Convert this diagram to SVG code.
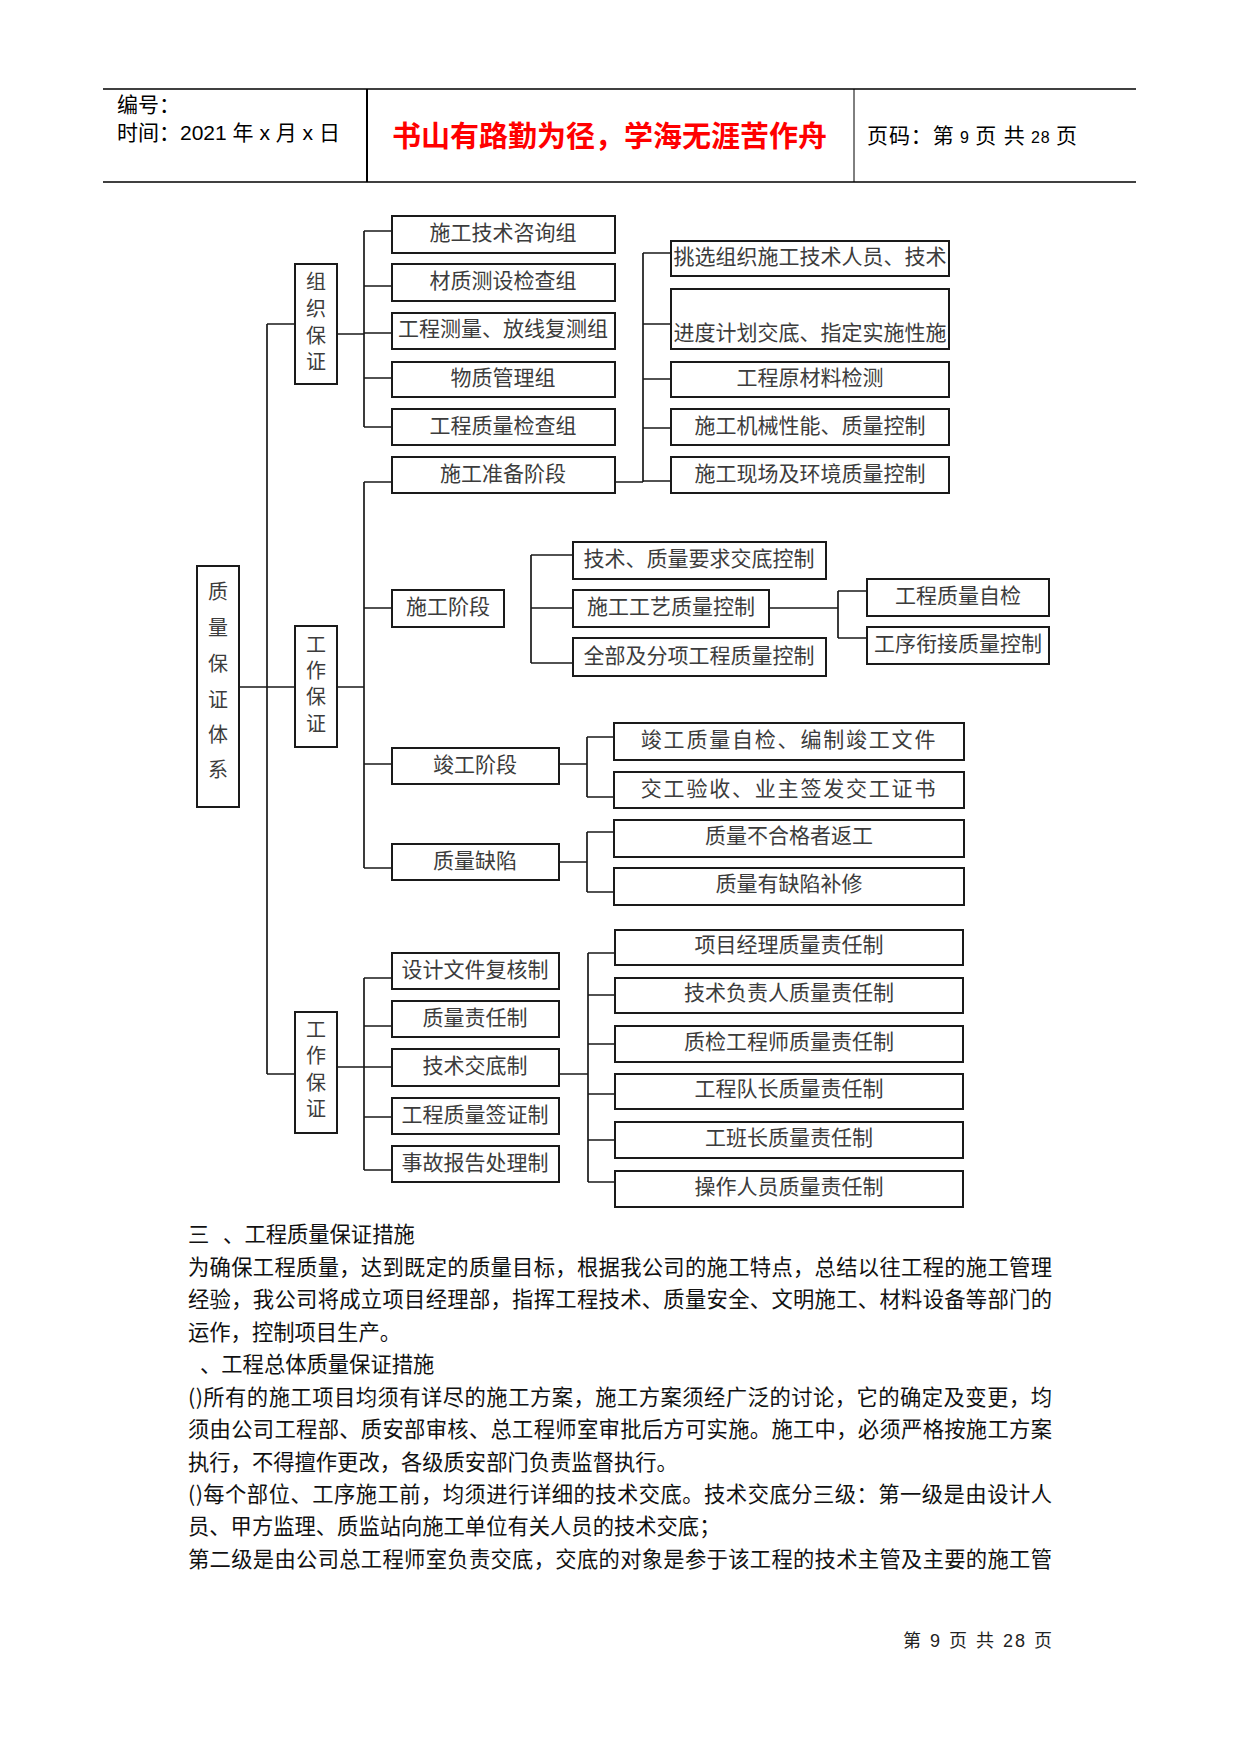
<svg xmlns="http://www.w3.org/2000/svg" width="1241" height="1754" viewBox="0 0 1241 1754">
<style>
.bx{fill:#fff;stroke:#1a1a1a;stroke-width:2}
.t{font-family:"Noto Sans CJK SC","Liberation Serif",sans-serif;font-size:21px;fill:#3c3c3c;text-anchor:middle;dominant-baseline:central;transform:translateY(-3px)}
.v{font-family:"Noto Sans CJK SC","Liberation Serif",sans-serif;font-size:20px;fill:#3c3c3c;text-anchor:middle;dominant-baseline:central}
.ln{fill:none;stroke:#1a1a1a;stroke-width:1.7}
.p{font-family:"Noto Sans CJK SC","Liberation Serif",sans-serif;font-size:21.3px;fill:#111;dominant-baseline:central;transform:translateY(-2px)}
.h{font-family:"Liberation Sans","Noto Sans CJK SC",sans-serif;font-size:21px;fill:#000}
</style>
<rect width="1241" height="1754" fill="#fff"/>
<g id="header">
<line x1="103" y1="89" x2="1136" y2="89" stroke="#000" stroke-width="1.5"/>
<line x1="103" y1="182" x2="1136" y2="182" stroke="#000" stroke-width="1.5"/>
<line x1="367" y1="89" x2="367" y2="182" stroke="#000" stroke-width="2"/>
<line x1="854" y1="89" x2="854" y2="182" stroke="#000" stroke-width="1"/>
<text class="h" x="117" y="112">编号：</text>
<text class="h" x="117" y="140">时间：2021 年 x 月 x 日</text>
<text x="392" y="147" font-family="Noto Sans CJK SC,sans-serif" font-size="29" font-weight="bold" fill="#ff0000">书山有路勤为径，学海无涯苦作舟</text>
<text class="h" x="867" y="143" textLength="210" lengthAdjust="spacing">页码：第<tspan font-size="16"> 9 </tspan>页 共<tspan font-size="16"> 28 </tspan>页</text>
</g>
<g id="connectors">
<path class="ln" d="M239,687 H295 M267,324 V1074 M267,324 H295 M267,1074 H295"/>
<path class="ln" d="M337,334 H364 M364,231 V427 M364,231 H392 M364,286 H392 M364,333 H392 M364,378 H392 M364,427 H392"/>
<path class="ln" d="M337,687 H364 M364,482 V868 M364,482 H392 M364,608 H392 M364,764 H392 M364,868 H392"/>
<path class="ln" d="M615,482 H643 M643,253 V482 M643,253 H671 M643,324 H671 M643,379 H671 M643,428 H671 M643,481 H671"/>
<path class="ln" d="M531,555 V663 M531,555 H573 M531,608 H573 M531,663 H573"/>
<path class="ln" d="M769,608 H838 M838,591 V638 M838,591 H867 M838,638 H867"/>
<path class="ln" d="M559,764 H587 M587,737 V797 M587,737 H614 M587,797 H614"/>
<path class="ln" d="M559,862 H587 M587,832 V892 M587,832 H614 M587,892 H614"/>
<path class="ln" d="M337,1067 H364 M364,978 V1170 M364,978 H392 M364,1026 H392 M364,1067 H392 M364,1117 H392 M364,1170 H392"/>
<path class="ln" d="M559,1074 H588 M588,953 V1182 M588,953 H615 M588,995 H615 M588,1044 H615 M588,1094 H615 M588,1140 H615 M588,1182 H615"/>
</g>
<g id="root"><rect class="bx" x="197" y="566" width="42" height="241"/>
<text class="v" x="218" y="590">质</text><text class="v" x="218" y="626">量</text><text class="v" x="218" y="662">保</text><text class="v" x="218" y="698">证</text><text class="v" x="218" y="733">体</text><text class="v" x="218" y="768">系</text></g>
<g id="org"><rect class="bx" x="295" y="264" width="42" height="120"/>
<text class="v" x="316" y="280">组</text><text class="v" x="316" y="307">织</text><text class="v" x="316" y="334">保</text><text class="v" x="316" y="360">证</text></g>
<g id="work1"><rect class="bx" x="295" y="626" width="42" height="121"/>
<text class="v" x="316" y="643">工</text><text class="v" x="316" y="669">作</text><text class="v" x="316" y="695">保</text><text class="v" x="316" y="722">证</text></g>
<g id="work2"><rect class="bx" x="295" y="1012" width="42" height="121"/>
<text class="v" x="316" y="1028">工</text><text class="v" x="316" y="1054">作</text><text class="v" x="316" y="1081">保</text><text class="v" x="316" y="1107">证</text></g>
<g id="n1"><rect class="bx" x="392" y="216" width="223" height="37"/><text class="t" x="503" y="234">施工技术咨询组</text></g>
<g id="n2"><rect class="bx" x="392" y="264" width="223" height="37"/><text class="t" x="503" y="282">材质测设检查组</text></g>
<g id="n3"><rect class="bx" x="392" y="313" width="223" height="36"/><text class="t" x="503" y="330">工程测量、放线复测组</text></g>
<g id="n4"><rect class="bx" x="392" y="362" width="223" height="35"/><text class="t" x="503" y="379">物质管理组</text></g>
<g id="n5"><rect class="bx" x="392" y="409" width="223" height="36"/><text class="t" x="503" y="427">工程质量检查组</text></g>
<g id="n6"><rect class="bx" x="392" y="457" width="223" height="36"/><text class="t" x="503" y="475">施工准备阶段</text></g>
<g id="p1"><rect class="bx" x="671" y="241" width="278" height="35"/><text class="t" x="810" y="258">挑选组织施工技术人员、技术</text></g>
<g id="p2"><rect class="bx" x="671" y="289" width="278" height="60"/><text class="t" x="810" y="334">进度计划交底、指定实施性施</text></g>
<g id="p3"><rect class="bx" x="671" y="362" width="278" height="35"/><text class="t" x="810" y="379">工程原材料检测</text></g>
<g id="p4"><rect class="bx" x="671" y="409" width="278" height="36"/><text class="t" x="810" y="427">施工机械性能、质量控制</text></g>
<g id="p5"><rect class="bx" x="671" y="457" width="278" height="36"/><text class="t" x="810" y="475">施工现场及环境质量控制</text></g>
<g id="s"><rect class="bx" x="392" y="590" width="112" height="37"/><text class="t" x="448" y="608">施工阶段</text></g>
<g id="s1"><rect class="bx" x="573" y="542" width="253" height="37"/><text class="t" x="699" y="560">技术、质量要求交底控制</text></g>
<g id="s2"><rect class="bx" x="573" y="590" width="196" height="37"/><text class="t" x="671" y="608">施工工艺质量控制</text></g>
<g id="s3"><rect class="bx" x="573" y="638" width="253" height="38"/><text class="t" x="699" y="657">全部及分项工程质量控制</text></g>
<g id="s21"><rect class="bx" x="867" y="579" width="182" height="37"/><text class="t" x="958" y="597">工程质量自检</text></g>
<g id="s22"><rect class="bx" x="867" y="627" width="182" height="37"/><text class="t" x="958" y="645">工序衔接质量控制</text></g>
<g id="c"><rect class="bx" x="392" y="748" width="167" height="36"/><text class="t" x="475" y="766">竣工阶段</text></g>
<g id="c1"><rect class="bx" x="614" y="723" width="350" height="37"/><text class="t" x="789" y="741" letter-spacing="1.8">竣工质量自检、编制竣工文件</text></g>
<g id="c2"><rect class="bx" x="614" y="772" width="350" height="36"/><text class="t" x="789" y="790" letter-spacing="1.8">交工验收、业主签发交工证书</text></g>
<g id="d"><rect class="bx" x="392" y="844" width="167" height="36"/><text class="t" x="475" y="862">质量缺陷</text></g>
<g id="d1"><rect class="bx" x="614" y="820" width="350" height="37"/><text class="t" x="789" y="837">质量不合格者返工</text></g>
<g id="d2"><rect class="bx" x="614" y="868" width="350" height="37"/><text class="t" x="789" y="885">质量有缺陷补修</text></g>
<g id="w1"><rect class="bx" x="392" y="953" width="167" height="36"/><text class="t" x="475" y="971">设计文件复核制</text></g>
<g id="w2"><rect class="bx" x="392" y="1001" width="167" height="36"/><text class="t" x="475" y="1019">质量责任制</text></g>
<g id="w3"><rect class="bx" x="392" y="1049" width="167" height="37"/><text class="t" x="475" y="1067">技术交底制</text></g>
<g id="w4"><rect class="bx" x="392" y="1098" width="167" height="36"/><text class="t" x="475" y="1116">工程质量签证制</text></g>
<g id="w5"><rect class="bx" x="392" y="1146" width="167" height="36"/><text class="t" x="475" y="1164">事故报告处理制</text></g>
<g id="r1"><rect class="bx" x="615" y="930" width="348" height="35"/><text class="t" x="789" y="946">项目经理质量责任制</text></g>
<g id="r2"><rect class="bx" x="615" y="978" width="348" height="35"/><text class="t" x="789" y="994">技术负责人质量责任制</text></g>
<g id="r3"><rect class="bx" x="615" y="1026" width="348" height="36"/><text class="t" x="789" y="1043">质检工程师质量责任制</text></g>
<g id="r4"><rect class="bx" x="615" y="1074" width="348" height="35"/><text class="t" x="789" y="1090">工程队长质量责任制</text></g>
<g id="r5"><rect class="bx" x="615" y="1122" width="348" height="36"/><text class="t" x="789" y="1139">工班长质量责任制</text></g>
<g id="r6"><rect class="bx" x="615" y="1171" width="348" height="36"/><text class="t" x="789" y="1188">操作人员质量责任制</text></g>
<g id="text">
<text class="p" x="188" y="1234">三 <tspan dx="9">、工程质量保证措施</tspan></text>
<text class="p" x="188" y="1267" textLength="864" lengthAdjust="spacing">为确保工程质量，达到既定的质量目标，根据我公司的施工特点，总结以往工程的施工管理</text>
<text class="p" x="188" y="1299" textLength="864" lengthAdjust="spacing">经验，我公司将成立项目经理部，指挥工程技术、质量安全、文明施工、材料设备等部门的</text>
<text class="p" x="188" y="1332">运作，控制项目生产。</text>
<text class="p" x="200" y="1364">、工程总体质量保证措施</text>
<text class="p" x="188" y="1397" textLength="864" lengthAdjust="spacing">()所有的施工项目均须有详尽的施工方案，施工方案须经广泛的讨论，它的确定及变更，均</text>
<text class="p" x="188" y="1429" textLength="864" lengthAdjust="spacing">须由公司工程部、质安部审核、总工程师室审批后方可实施。施工中，必须严格按施工方案</text>
<text class="p" x="188" y="1462">执行，不得擅作更改，各级质安部门负责监督执行。</text>
<text class="p" x="188" y="1494" textLength="864" lengthAdjust="spacing">()每个部位、工序施工前，均须进行详细的技术交底。技术交底分三级：第一级是由设计人</text>
<text class="p" x="188" y="1526">员、甲方监理、质监站向施工单位有关人员的技术交底；</text>
<text class="p" x="188" y="1559" textLength="864" lengthAdjust="spacing">第二级是由公司总工程师室负责交底，交底的对象是参于该工程的技术主管及主要的施工管</text>
</g>
<g id="footer"><text x="903" y="1647" font-family="Liberation Sans,Noto Sans CJK SC,sans-serif" font-size="18" fill="#222" textLength="149" lengthAdjust="spacing">第 9 页 共 28 页</text></g>
</svg>
